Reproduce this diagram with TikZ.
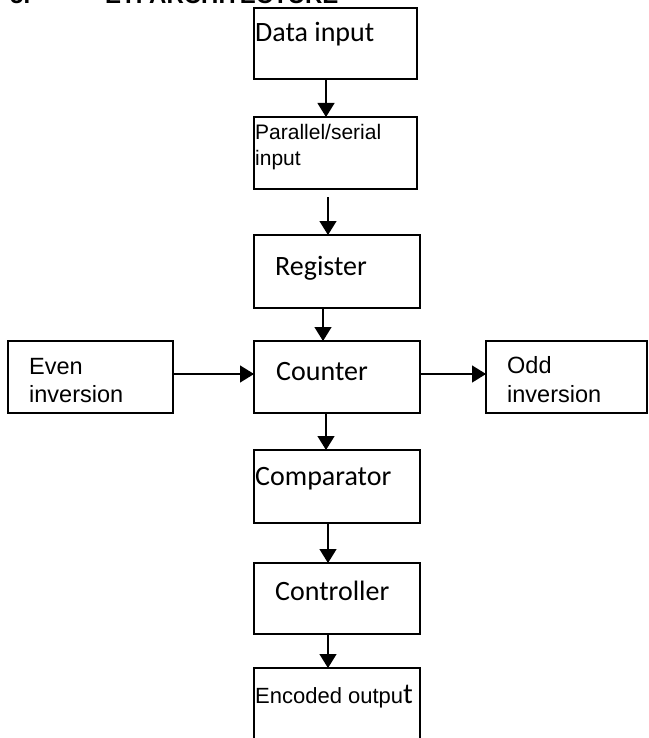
\documentclass[tikz,border=0pt]{standalone}
\usepackage{fontspec}
\setmainfont{Liberation Sans}
\newfontfamily\calfnt{Carlito}
\newfontfamily\arifnt{Liberation Sans}
\usetikzlibrary{arrows.meta}
\begin{document}
\begin{tikzpicture}[x=1pt,y=-1pt,
  box/.style={draw,line width=1.3pt,rectangle,inner sep=0pt,outer sep=0pt,anchor=north west,minimum width=164pt,minimum height=72pt},
  big/.style={anchor=base west,inner sep=0pt,font=\calfnt\fontsize{28}{32}\selectfont},
  small/.style={anchor=base west,inner sep=0pt,font=\arifnt\fontsize{21}{25}\selectfont},
  mid/.style={anchor=base west,inner sep=0pt,font=\arifnt\fontsize{23.5}{28}\selectfont},
  head/.style={anchor=base west,inner sep=0pt,font=\arifnt\bfseries\fontsize{24}{28}\selectfont},
  arr/.style={line width=1.3pt,-{Triangle[length=14pt,width=17pt]}}]
\clip (0,0) rectangle (648,738);
\fill[white] (0,0) rectangle (648,738);
% heading (cut off at the top, as in the reference)
\node[head] (hnum) at (10,4) {5.};
\node[head] (htitle) at (105,4) {ETI ARCHITECTURE};
% boxes
\node[box,minimum width=163pt,minimum height=71pt] (data) at (254,8) {};
\node[box,minimum width=163pt,minimum height=72pt] (par) at (254,117) {};
\node[box,minimum width=166pt,minimum height=73pt] (reg) at (254,235) {};
\node[box,minimum width=166pt,minimum height=72pt] (cnt) at (254,341) {};
\node[box,minimum width=165pt,minimum height=72pt] (even) at (8,341) {};
\node[box,minimum width=161pt,minimum height=72pt] (odd) at (486,341) {};
\node[box,minimum width=166pt,minimum height=73pt] (cmp) at (254,450) {};
\node[box,minimum width=166pt,minimum height=71pt] (ctl) at (254,563) {};
\node[box,minimum width=166pt,minimum height=90pt] (enc) at (254,668) {};
% labels
\node[big] (tdata) at (255,42) {Data input};
\node[small] (tpar1) at (255,140) {Parallel/serial};
\node[small] (tpar2) at (255,165) {input};
\node[big] (treg) at (275,275) {Register};
\node[big] (tcnt) at (276,380) {Counter};
\node[mid] (teven1) at (29,374) {Even};
\node[mid] (teven2) at (29,402) {inversion};
\node[mid] (todd1) at (507,373) {Odd};
\node[mid] (todd2) at (507,402) {inversion};
\node[big] (tcmp) at (255,485) {Comparator};
\node[big] (tctl) at (275,600) {Controller};
\node[small,font=\arifnt\fontsize{22}{26}\selectfont] (tenc) at (255,703) {Encoded outpu{\calfnt\fontsize{29}{30}\selectfont t}};
% connector columns
\coordinate (c1) at (326,0);
\coordinate (c2) at (328,0);
\coordinate (c3) at (323,0);
\coordinate (c4) at (326,0);
\coordinate (row) at (0,374);
\coordinate (pgap) at (0,197);
% connectors
\draw[arr] (data.south -| c1) -- (par.north -| c1);
\draw[arr] (pgap -| c2) -- (reg.north -| c2);
\draw[arr] (reg.south -| c3) -- (cnt.north -| c3);
\draw[arr] (cnt.south -| c4) -- (cmp.north -| c4);
\draw[arr] (cmp.south -| c2) -- (ctl.north -| c2);
\draw[arr] (ctl.south -| c2) -- (enc.north -| c2);
\draw[arr] (even.east |- row) -- (cnt.west |- row);
\draw[arr] (cnt.east |- row) -- (odd.west |- row);
\end{tikzpicture}
\end{document}
